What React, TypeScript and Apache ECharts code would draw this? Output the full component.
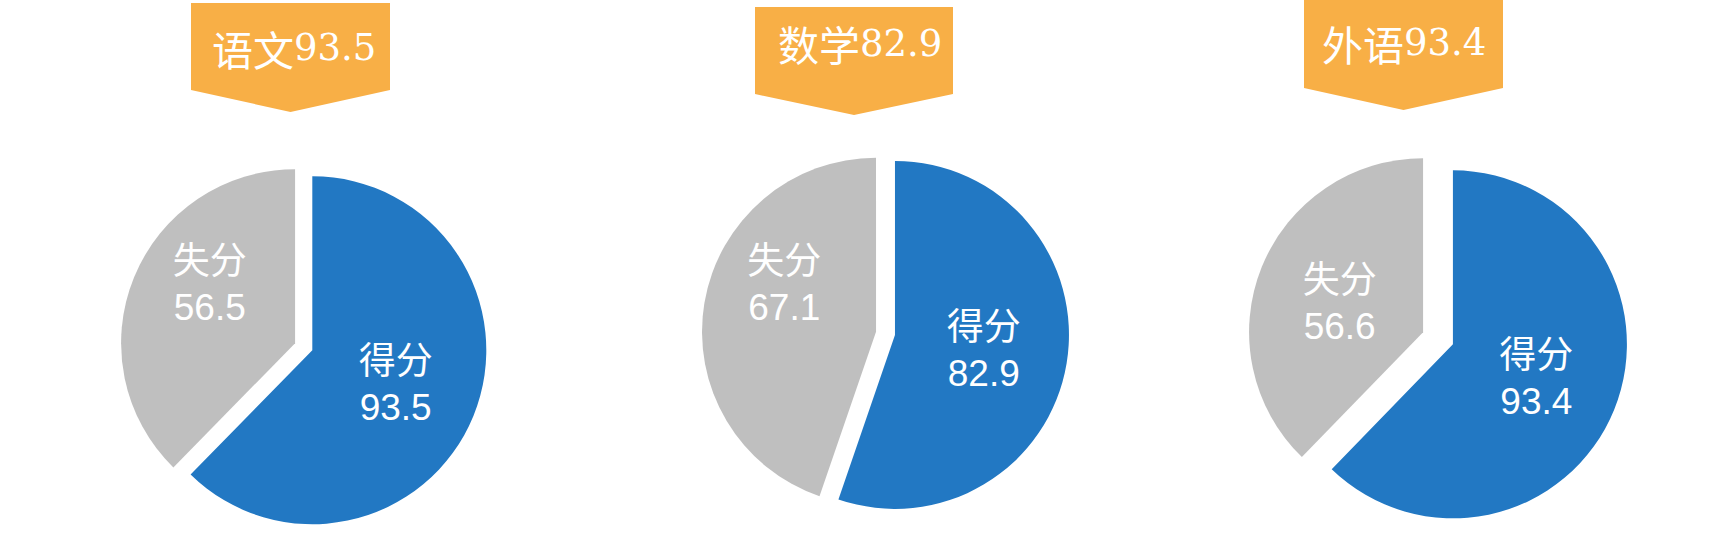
import React, { useEffect, useRef } from "react";
import * as echarts from "echarts";

// ---- data ----
const subjects = ["语文", "数学", "外语"];
const scores = [93.5, 82.9, 93.4];
const lostScores = [56.5, 67.1, 56.6];
const sliceNames = ["得分", "失分"];

// ---- layout / style (positions kept separate from data) ----
const pieCenters: [number, number][] = [
  [303.7, 346.7],
  [885.5, 333.3],
  [1438, 338.3],
];
const pieRadius = 174;
const explode = [9.3, 9.6, 16.1];
// per pie: [scoreLabel dx, dy, lostLabel dx, dy]
const labelShift = [
  [0, 0, -2, -25],
  [0, 1, -3, -32],
  [0, 0, 0, 5],
];
const banners = [
  { left: 191, right: 390, top: 3, side: 90, tip: 112, textX: 212, textY: 47.5 },
  { left: 755, right: 953, top: 7, side: 94, tip: 115, textX: 778, textY: 43 },
  { left: 1304, right: 1503, top: 0, side: 88, tip: 110, textX: 1322, textY: 42.5 },
];
const BLUE = "#2278C3";
const GREY = "#BFBFBF";
const ORANGE = "#F8AF46";

export default function App() {
  const ref = useRef<HTMLDivElement>(null);
  useEffect(() => {
    document.body.style.margin = "0";
    if (!ref.current) return;
    const chart = echarts.init(ref.current, undefined, { renderer: "svg" });

    const series = subjects.map((s, i) => ({
      type: "pie",
      name: s,
      center: pieCenters[i],
      radius: pieRadius,
      startAngle: 90,
      clockwise: true,
      selectedMode: "multiple",
      selectedOffset: explode[i],
      emphasis: { disabled: true },
      label: {
        show: true,
        position: "inside",
        formatter: "{b}\n{c}",
        color: "#fff",
        fontSize: 37,
        lineHeight: 46,
        fontFamily: '"Liberation Sans", Arial, "Noto Sans CJK SC", sans-serif',
      },
      labelLine: { show: false },
      labelLayout: (p: any) => {
        const sh = labelShift[i];
        return p.dataIndex === 0 ? { dx: sh[0], dy: sh[1] } : { dx: sh[2], dy: sh[3] };
      },
      data: [
        { name: sliceNames[0], value: scores[i], selected: true, itemStyle: { color: BLUE } },
        { name: sliceNames[1], value: lostScores[i], selected: true, itemStyle: { color: GREY } },
      ],
    }));

    const graphic: any[] = [];
    banners.forEach((b, i) => {
      const mid = (b.left + b.right) / 2;
      graphic.push({
        type: "polygon",
        shape: {
          points: [
            [b.left, b.top],
            [b.right, b.top],
            [b.right, b.side],
            [mid, b.tip],
            [b.left, b.side],
          ],
        },
        style: { fill: ORANGE },
      });
      graphic.push({
        type: "text",
        x: b.textX,
        y: b.textY,
        style: {
          text: `{cn|${subjects[i]}}{num|${scores[i]}}`,
          fill: "#fff",
          textAlign: "left",
          textVerticalAlign: "middle",
          rich: {
            cn: {
              fill: "#fff",
              fontSize: 41,
              fontFamily: '"Noto Sans CJK SC", sans-serif',
            },
            num: {
              fill: "#fff",
              fontSize: 37,
              fontFamily: '"DejaVu Serif", "Liberation Serif", serif',
            },
          },
        },
      });
    });

    chart.setOption({
      animation: false,
      backgroundColor: "#fff",
      series,
      graphic,
    });
    return () => chart.dispose();
  }, []);
  return <div ref={ref} style={{ width: 1718, height: 540 }} />;
}
